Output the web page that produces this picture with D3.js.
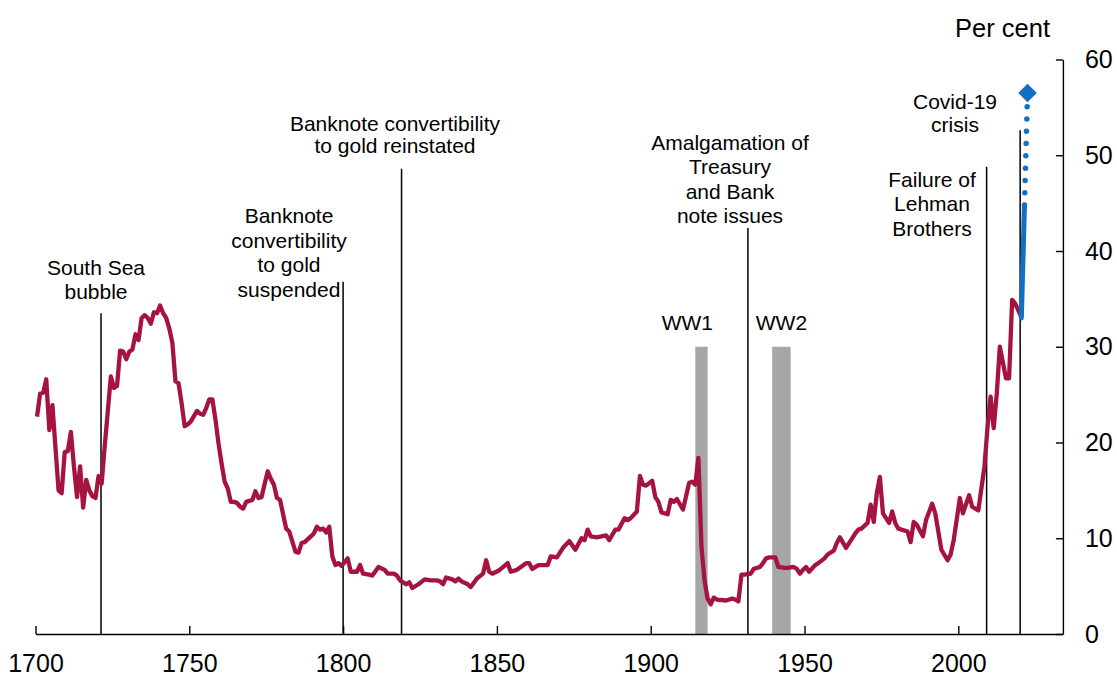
<!DOCTYPE html>
<html>
<head>
<meta charset="utf-8">
<script src="https://cdn.jsdelivr.net/npm/d3@7"></script>
<style>
  html, body { margin: 0; padding: 0; background: #fff; }
  svg { display: block; font-family: "Liberation Sans", Arial, sans-serif; }
</style>
</head>
<body>
<svg id="chart" width="1117" height="677"></svg>
<script>
// public debt ratio, per cent
const debtSeries = [
  [1700,22.7],[1701,25.1],[1702,25.2],[1703,26.6],[1704,21.3],[1705,23.9],[1707,15.0],[1708,14.7],[1709,19.0],
  [1710,19.1],[1711,21.1],[1712,17.5],[1713,14.3],[1714,17.5],[1715,13.2],[1716,16.1],[1717,15.0],[1718,14.4],[1719,14.2],
  [1720,16.5],[1721,15.7],[1722,19.6],[1724,26.9],[1725,25.7],[1726,25.9],[1727,29.6],[1728,29.5],[1729,28.7],
  [1730,29.5],[1731,29.7],[1732,31.3],[1733,30.7],[1734,33.0],[1735,33.3],[1736,33.0],[1737,32.4],[1738,33.6],[1739,33.5],
  [1740,34.3],[1741,33.5],[1742,33.0],[1743,31.9],[1744,30.4],[1745,26.4],[1746,26.2],[1747,24.1],[1748,21.7],[1749,21.9],
  [1750,22.2],[1752,23.3],[1753,23.0],[1754,22.9],[1755,23.6],[1756,24.5],[1757,24.5],[1758,22.4],[1759,19.9],
  [1760,17.8],[1761,15.9],[1762,15.2],[1763,13.8],[1764,13.8],[1765,13.7],[1766,13.3],[1767,13.1],[1768,13.8],[1769,13.9],
  [1770,14.0],[1771,14.9],[1772,14.2],[1773,14.3],[1774,15.7],[1775,17.0],[1776,16.2],[1777,15.6],[1778,14.2],[1779,14.0],
  [1781,11.0],[1782,10.7],[1784,8.6],[1785,8.5],[1786,9.5],[1787,9.6],[1789,10.2],
  [1790,10.5],[1791,11.2],[1792,10.9],[1793,11.0],[1794,10.6],[1795,11.2],[1796,8.1],[1797,7.2],[1798,7.4],[1799,7.1],
  [1800,7.5],[1801,7.9],[1802,6.5],[1804,6.5],[1805,7.2],[1806,6.3],[1808,6.2],[1809,6.1],
  [1811,7.0],[1813,6.7],[1814,6.3],[1816,6.3],[1817,6.1],[1818,5.6],
  [1820,5.2],[1821,5.4],[1822,4.8],[1824,5.2],[1826,5.7],[1828,5.6],
  [1830,5.6],[1831,5.5],[1832,5.2],[1833,5.9],[1835,5.7],[1836,5.5],[1837,5.8],[1838,5.5],
  [1840,5.2],[1841,4.9],[1843,5.8],[1845,6.3],[1846,7.7],[1847,6.5],[1848,6.3],
  [1850,6.6],[1853,7.4],[1854,6.5],[1856,6.7],[1859,7.4],
  [1860,7.4],[1861,6.8],[1863,7.2],[1866,7.2],[1867,8.1],[1869,8.0],
  [1871,9.0],[1873,9.7],[1875,8.8],[1877,10.0],[1878,9.8],[1879,10.9],
  [1880,10.2],[1882,10.1],[1885,10.3],[1886,9.8],[1888,10.9],[1889,10.9],
  [1891,12.1],[1892,11.9],[1893,12.1],[1895,12.8],[1896,16.5],[1897,15.6],[1898,15.5],
  [1900,16.0],[1901,14.3],[1902,13.8],[1903,12.7],[1905,12.5],[1906,14.0],[1907,13.8],[1908,14.1],
  [1910,13.0],[1912,15.8],[1913,15.9],[1914,15.6],[1915,18.4],[1916,9.1],[1917,5.6],[1918,3.7],[1919,3.1],
  [1920,3.8],[1921,3.6],[1924,3.5],[1926,3.7],[1927,3.6],[1928,3.4],[1929,6.2],
  [1930,6.2],[1932,6.3],[1933,6.8],[1935,7.0],[1936,7.4],[1937,7.9],[1938,8.0],
  [1940,8.0],[1941,7.0],[1943,6.9],[1944,6.9],[1946,7.0],[1947,6.8],[1948,6.3],[1949,6.7],
  [1950,7.0],[1951,6.5],[1953,7.2],[1954,7.4],[1956,7.9],[1957,8.3],[1959,8.7],
  [1960,9.5],[1961,10.1],[1963,9.0],[1964,9.5],[1966,10.5],[1967,10.9],[1968,11.0],
  [1970,11.6],[1971,13.5],[1972,11.7],[1973,14.7],[1974,16.4],[1975,12.6],[1977,11.6],[1978,12.8],[1979,11.6],
  [1980,11.0],[1983,10.7],[1984,9.6],[1985,11.7],[1986,11.4],[1988,10.2],[1989,11.9],
  [1991,13.6],[1992,12.6],[1994,8.8],[1996,7.7],[1997,8.3],[1998,9.8],
  [2000,14.2],[2001,12.6],[2003,14.5],[2004,13.3],[2006,12.9],[2008,17.5],[2009,21.6],
  [2010,24.8],[2011,21.5],[2012,25.1],[2013,30.0],[2015,26.7],[2016,26.7],[2017,34.9],[2018,34.5],[2020,33.1]
];

// covid-era outturn and projection
const covidSeries = [[2020, 33.0], [2021, 44.8]];
const projectionSeries = [[2021, 44.8], [2022, 56.5]];

// vertical event markers
const eventYears = [1721.3, 1800, 1819, 1931.6, 2009.2, 2020.1];
const eventTops = [33.5, 36.8, 48.6, 42.4, 48.8, 52.6];
const eventLabels = [
  ["South Sea", "bubble"],
  ["Banknote", "convertibility", "to gold", "suspended"],
  ["Banknote convertibility", "to gold reinstated"],
  ["Amalgamation of", "Treasury", "and Bank", "note issues"],
  ["Failure of", "Lehman", "Brothers"],
  ["Covid-19", "crisis"]
];

// world wars shading
const warNames = ["WW1", "WW2"];
const warSpans = [[1914.5, 1918.5], [1939.5, 1945.5]];
const warTop = 30;

const xTicks = [1700, 1750, 1800, 1850, 1900, 1950, 2000];
const yTicks = [0, 10, 20, 30, 40, 50, 60];

// label layout: centre x and first baseline, line step
const labelLayout = [
  { x: 96, y: 275, step: 24 },
  { x: 289, y: 223, step: 24.6 },
  { x: 395, y: 131, step: 22 },
  { x: 730, y: 149.5, step: 24.5 },
  { x: 932, y: 187, step: 24.3 },
  { x: 955, y: 108.5, step: 23.3 }
];

const svg = d3.select("#chart");

const x = d3.scaleLinear().domain([1700, 2034]).range([35.5, 1062.9]);
const y = d3.scaleLinear().domain([0, 60]).range([634, 59.5]);

const red = "#a6133f";
const blue = "#1170c4";

// war bars
svg.append("g")
  .selectAll("rect")
  .data(warSpans)
  .join("rect")
  .attr("x", d => x(d[0]))
  .attr("width", d => x(d[1]) - x(d[0]))
  .attr("y", y(warTop))
  .attr("height", y(0) - y(warTop))
  .attr("fill", "#a6a6a6");

svg.append("g")
  .attr("font-size", 21)
  .attr("text-anchor", "middle")
  .selectAll("text")
  .data(warNames)
  .join("text")
  .attr("x", (d, i) => i === 0 ? x(warSpans[i][0]) - 8 : x((warSpans[i][0] + warSpans[i][1]) / 2))
  .attr("y", 330)
  .text(d => d);

// event lines
svg.append("g")
  .attr("stroke", "#000")
  .attr("stroke-width", 1.5)
  .selectAll("line")
  .data(eventYears)
  .join("line")
  .attr("x1", d => x(d))
  .attr("x2", d => x(d))
  .attr("y1", y(0))
  .attr("y2", (d, i) => y(eventTops[i]));

// event labels
const labels = svg.append("g")
  .attr("font-size", 21)
  .attr("fill", "#000")
  .attr("text-anchor", "middle");

eventLabels.forEach((lines, i) => {
  const L = labelLayout[i];
  const t = labels.append("text");
  lines.forEach((s, j) => {
    t.append("tspan")
      .attr("x", L.x)
      .attr("y", L.y + j * L.step)
      .text(s);
  });
});

// main debt line
const line = d3.line()
  .x(d => x(d[0] + 0.5))
  .y(d => y(d[1]));

svg.append("path")
  .datum(debtSeries)
  .attr("fill", "none")
  .attr("stroke", red)
  .attr("stroke-width", 4.3)
  .attr("stroke-linejoin", "round")
  .attr("d", line);

svg.append("path")
  .datum(covidSeries)
  .attr("fill", "none")
  .attr("stroke", blue)
  .attr("stroke-width", 5)
  .attr("stroke-linecap", "round")
  .attr("d", line);

svg.append("path")
  .datum(projectionSeries)
  .attr("fill", "none")
  .attr("stroke", blue)
  .attr("stroke-width", 5.5)
  .attr("stroke-linecap", "round")
  .attr("stroke-dasharray", "0 12.3")
  .attr("d", line);

const last = projectionSeries[projectionSeries.length - 1];
svg.append("path")
  .attr("d", d3.symbol(d3.symbolSquare, 172)())
  .attr("transform", `translate(${x(last[0] + 0.5)},${y(last[1])}) rotate(45)`)
  .attr("fill", blue);

// axes
const xAxis = svg.append("g")
  .attr("transform", `translate(0,${y(0)})`)
  .call(d3.axisBottom(x)
    .tickValues(xTicks)
    .tickFormat(d3.format("d"))
    .tickSizeInner(-8)
    .tickSizeOuter(0)
    .tickPadding(20));

const yAxis = svg.append("g")
  .attr("transform", `translate(${x(2034)},0)`)
  .call(d3.axisRight(y)
    .tickValues(yTicks)
    .tickSizeInner(-7)
    .tickSizeOuter(0)
    .tickPadding(22));

[xAxis, yAxis].forEach(g => {
  g.attr("font-family", null).attr("font-size", 25);
  g.selectAll("path, line").attr("stroke", "#000").attr("stroke-width", 1.4);
  g.selectAll("text").attr("fill", "#000");
});

svg.append("text")
  .attr("x", 1050)
  .attr("y", 37)
  .attr("text-anchor", "end")
  .attr("font-size", 25.5)
  .text("Per cent");
</script>
</body>
</html>
